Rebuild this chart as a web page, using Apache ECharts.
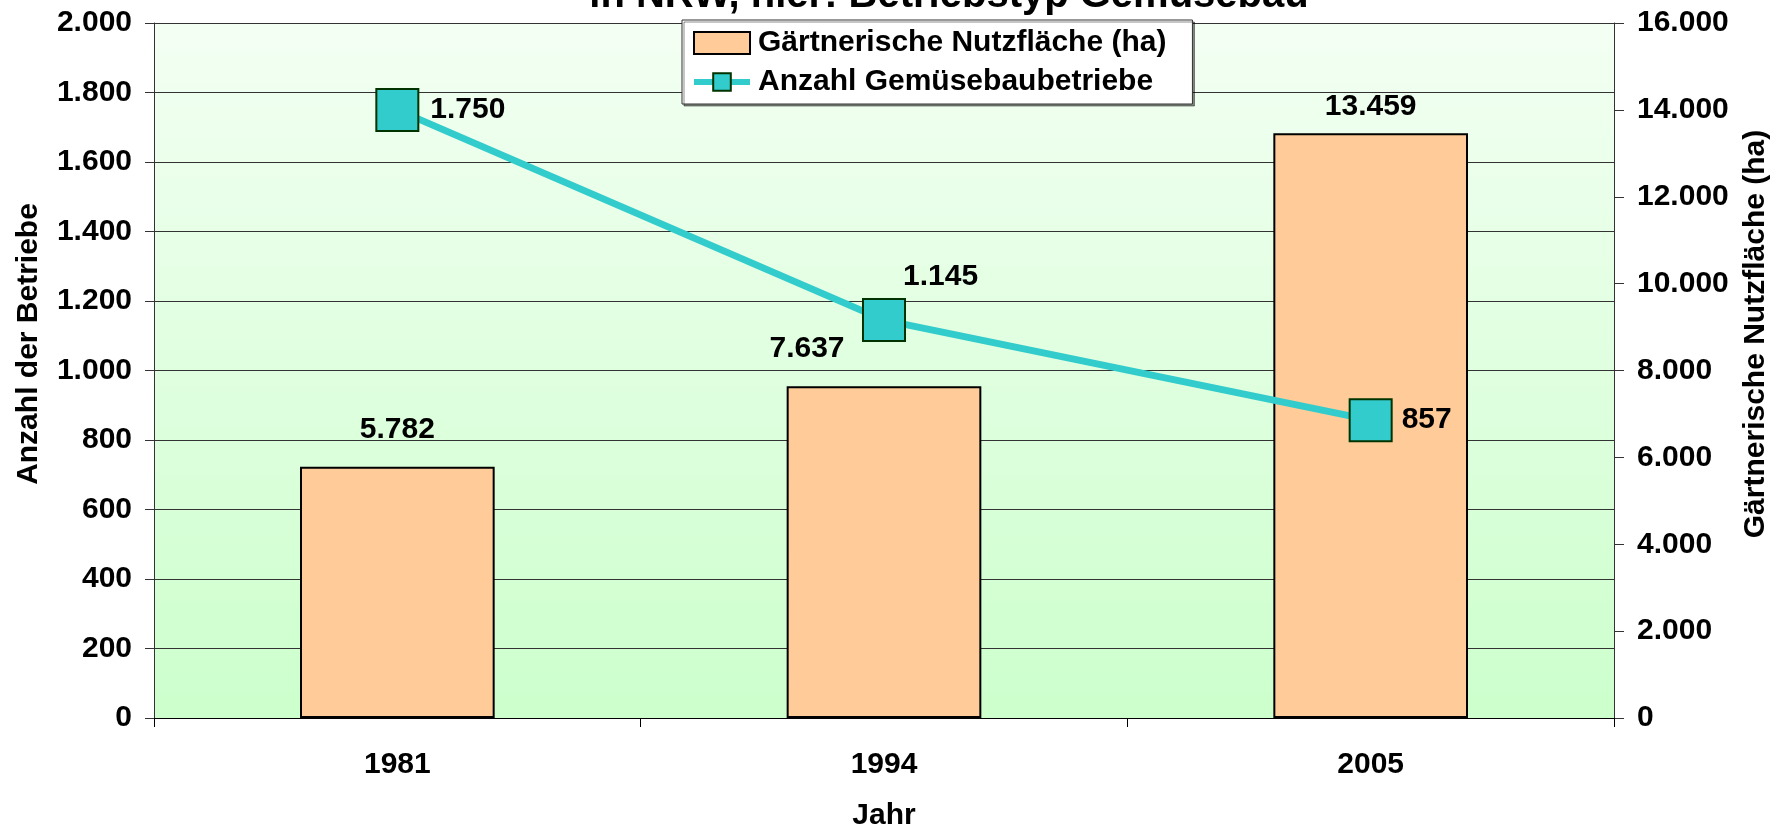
<!DOCTYPE html>
<html><head><meta charset="utf-8">
<script src="https://cdn.jsdelivr.net/npm/echarts@6/dist/echarts.min.js"></script>
<style>html,body{margin:0;padding:0;background:#fff}#c{width:1776px;height:828px}</style>
</head><body><div id="c"></div>
<script>
// ---- data ----
const years = ['1981', '1994', '2005'];
const flaeche = [5782, 7637, 13459];       // Gärtnerische Nutzfläche (ha)
const betriebe = [1750, 1145, 857];        // Anzahl Gemüsebaubetriebe
const leftAxisRange = [0, 2000, 200];
const rightAxisRange = [0, 16000, 2000];
const seriesNames = ['Gärtnerische Nutzfläche (ha)', 'Anzahl Gemüsebaubetriebe'];
const titleText = 'in NRW, hier: Betriebstyp Gemüsebau';
const leftAxisTitle = 'Anzahl der Betriebe';
const rightAxisTitle = 'Gärtnerische Nutzfläche (ha)';
const xAxisTitle = 'Jahr';

// ---- styling ----
const FONT = '"Liberation Sans", Arial, sans-serif';
const fmt = v => String(v).replace(/\B(?=(\d{3})+(?!\d))/g, '.');
const txt = {fontFamily: FONT, fontWeight: 'bold', fontSize: 30, color: '#000'};
const barLabelCfg = [{distance: 22}, {distance: 23, offset: [-77, 0]}, {distance: 12}];
const lineLabelCfg = [
  {position: 'right', distance: 11},
  {position: 'right', distance: 0, offset: [-3, -43]},
  {position: 'right', distance: 9}
];

const chart = echarts.init(document.getElementById('c'), null, {renderer: 'canvas'});
chart.setOption({
  animation: false,
  backgroundColor: '#ffffff',
  grid: {
    left: 154, right: 162, top: 23, bottom: 110,
    containLabel: false, outerBoundsMode: 'none',
    show: true, borderWidth: 0,
    backgroundColor: new echarts.graphic.LinearGradient(0, 0, 0, 1, [
      {offset: 0, color: '#F3FFF3'}, {offset: 1, color: '#CCFFCC'}
    ])
  },
  legend: {
    orient: 'vertical', left: 682, top: 20,
    padding: [8, 26, 7, 9], itemGap: 9,
    itemWidth: 56, itemHeight: 22,
    backgroundColor: '#ffffff', borderColor: '#333', borderWidth: 1,
    shadowColor: 'rgba(0,0,0,0.45)', shadowOffsetX: 2, shadowOffsetY: 2, shadowBlur: 0,
    textStyle: Object.assign({}, txt, {padding: [0, 0, 0, 3]}),
    data: [
      {name: seriesNames[0], icon: 'rect', itemStyle: {borderWidth: 2, borderColor: '#000'}},
      {name: seriesNames[1], lineStyle: {width: 6, color: '#33CCCC'},
       itemStyle: {borderWidth: 2, borderColor: '#003300'}}
    ]
  },
  xAxis: {
    type: 'category', data: years,
    axisLine: {lineStyle: {color: '#000', width: 1}},
    axisTick: {show: true, length: 9, lineStyle: {color: '#000'}},
    axisLabel: Object.assign({}, txt, {margin: 32}),
    name: xAxisTitle, nameLocation: 'middle', nameGap: 83,
    nameTextStyle: txt
  },
  yAxis: [
    {
      type: 'value', position: 'left',
      min: leftAxisRange[0], max: leftAxisRange[1], interval: leftAxisRange[2],
      axisLine: {show: true, lineStyle: {color: '#333', width: 1}},
      axisTick: {show: true, length: 9, lineStyle: {color: '#333'}},
      axisLabel: Object.assign({}, txt, {margin: 22, formatter: fmt}),
      splitLine: {show: true, lineStyle: {color: '#333', width: 1}}
    },
    {
      type: 'value', position: 'right',
      min: rightAxisRange[0], max: rightAxisRange[1], interval: rightAxisRange[2],
      axisLine: {show: true, lineStyle: {color: '#333', width: 1}},
      axisTick: {show: true, length: 10, lineStyle: {color: '#333'}},
      axisLabel: Object.assign({}, txt, {margin: 23, formatter: fmt}),
      splitLine: {show: false}
    }
  ],
  graphic: [
    {type: 'text', x: 949, y: -4.5, z: 100,
     style: {text: titleText, align: 'center', verticalAlign: 'middle',
             font: 'bold 40px ' + FONT, fill: '#000'}},
    {type: 'text', x: 29, y: 344, rotation: Math.PI / 2, z: 100,
     style: {text: leftAxisTitle, align: 'center', verticalAlign: 'middle',
             font: 'bold 30px ' + FONT, fill: '#000'}},
    {type: 'text', x: 1756, y: 334, rotation: Math.PI / 2, z: 100,
     style: {text: rightAxisTitle, align: 'center', verticalAlign: 'middle',
             font: 'bold 30px ' + FONT, fill: '#000'}}
  ],
  series: [
    {
      name: seriesNames[0], type: 'bar', yAxisIndex: 1, barWidth: '40%',
      itemStyle: {color: '#FFCC99', borderColor: '#000', borderWidth: 2},
      label: Object.assign({show: true, position: 'top', formatter: p => fmt(p.value)}, txt),
      data: flaeche.map((v, i) => ({value: v, label: barLabelCfg[i]})),
      z: 2
    },
    {
      name: seriesNames[1], type: 'line', yAxisIndex: 0,
      symbol: 'rect', symbolSize: 42,
      lineStyle: {color: '#33CCCC', width: 7},
      itemStyle: {color: '#33CCCC', borderColor: '#003300', borderWidth: 2},
      label: Object.assign({show: true, formatter: p => fmt(p.value)}, txt),
      data: betriebe.map((v, i) => ({value: v, label: lineLabelCfg[i]})),
      z: 3
    }
  ]
});
</script>
</body></html>
